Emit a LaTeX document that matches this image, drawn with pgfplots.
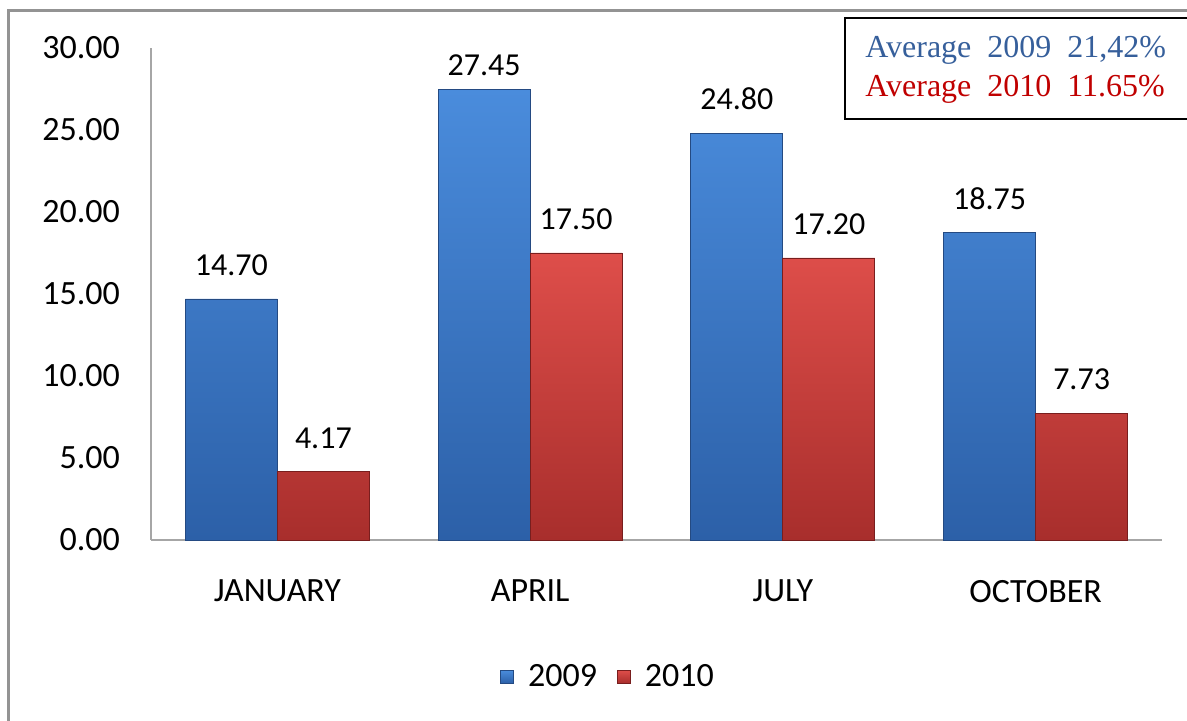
\documentclass[border=0pt]{standalone}
\usepackage{fontspec}
\setmainfont{Carlito}
\newfontfamily\timesf{Liberation Serif}
\usepackage{pgfplots}
\pgfplotsset{compat=1.18}
\definecolor{btop}{RGB}{74,140,220}
\definecolor{bbot}{RGB}{44,96,168}
\definecolor{bedge}{RGB}{36,74,130}
\definecolor{rtop}{RGB}{222,78,74}
\definecolor{rbot}{RGB}{168,46,44}
\definecolor{redge}{RGB}{120,30,30}
\definecolor{avgblue}{RGB}{54,95,155}
\definecolor{avgred}{RGB}{192,0,0}
\begin{document}
\begin{tikzpicture}
\path[use as bounding box] (0,0) rectangle (593.5pt,360.5pt);
\draw[line width=1.5pt, draw=gray!85] (4pt,-10pt) rectangle (610pt,355pt);
\begin{axis}[
  at={(75.5pt,90.5pt)}, anchor=south west,
  scale only axis, width=505.5pt, height=246pt,
  ybar=0pt, bar width=46pt,
  xmin=-0.5, xmax=3.5, ymin=0, ymax=30,
  xtick={0,1,2,3}, xticklabels={JANUARY,APRIL,JULY,OCTOBER},
  ytick={0,5,...,30},
  yticklabel={\pgfmathprintnumber[fixed,fixed zerofill,precision=2,assume math mode=true]{\tick}},
  axis x line=bottom, axis y line=left,
  axis line style={-, draw=gray!70, line width=0.75pt},
  major tick length=0pt,
  tick label style={font=\fontsize{17}{20}\selectfont},
  yticklabel style={xshift=-12pt},
  xticklabel style={yshift=-16.5pt},
  visualization depends on={y \as \rawy},
  nodes near coords={\pgfmathprintnumber[fixed,fixed zerofill,precision=2,assume math mode=true]{\pgfplotspointmeta}},
  nodes near coords style={font=\fontsize{16}{19}\selectfont, text=black, yshift={(\rawy>27 ? 3.5 : 8)*1pt}},
  legend style={at={(0.453,-0.278)}, anchor=center, draw=none, fill=none,
    legend columns=2, font=\fontsize{17}{20}\selectfont,
    /tikz/every even column/.append style={column sep=8pt},
    /tikz/every odd column/.append style={column sep=5pt}},
  legend image code/.code={\draw[#1] (0pt,-3.25pt) rectangle (6.5pt,3.25pt);},
  clip=false,
]
\addplot[draw=bedge, top color=btop, bottom color=bbot] coordinates {(0,14.70) (1,27.45) (2,24.80) (3,18.75)};
\addplot[draw=redge, top color=rtop, bottom color=rbot] coordinates {(0,4.17) (1,17.50) (2,17.20) (3,7.73)};
\legend{2009,2010}
\end{axis}
\draw[black, line width=1pt] (422.5pt,301pt) rectangle (600pt,351.5pt);
\node[anchor=base west, inner sep=0pt, text=avgblue, font=\timesf\fontsize{16}{19}\selectfont] at (432.5pt,331.5pt) {Average\ \ 2009\ \ 21,42\%};
\node[anchor=base west, inner sep=0pt, text=avgred, font=\timesf\fontsize{16}{19}\selectfont] at (432.5pt,312pt) {Average\ \ 2010\ \ 11.65\%};
\end{tikzpicture}
\end{document}
